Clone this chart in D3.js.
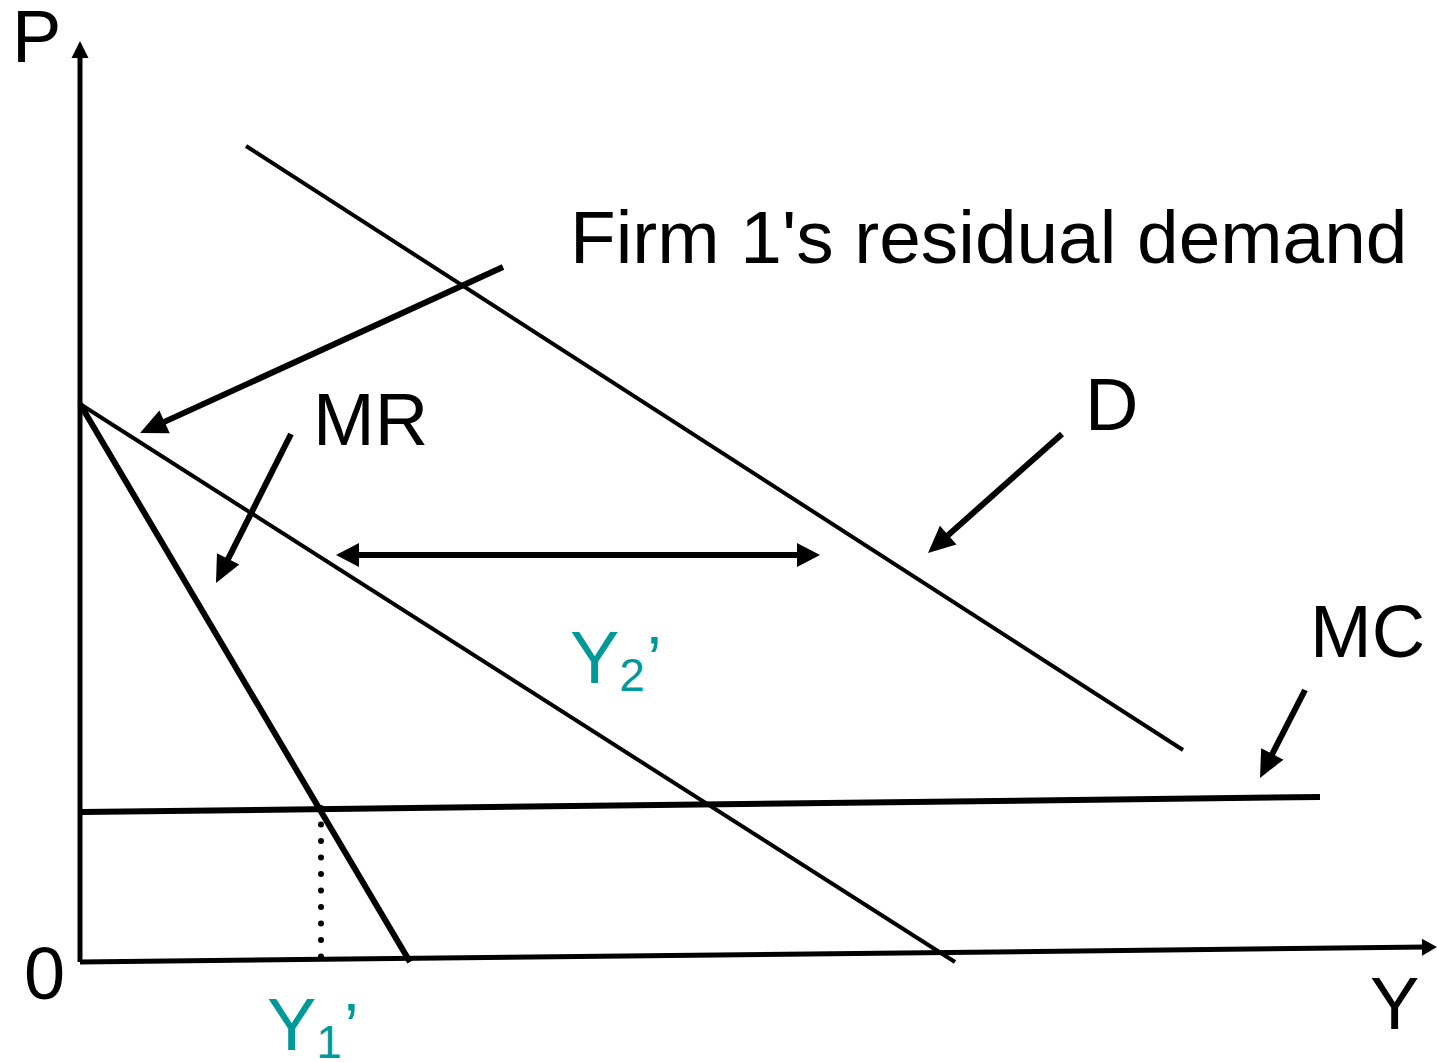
<!DOCTYPE html>
<html>
<head>
<meta charset="utf-8">
<script src="https://cdn.jsdelivr.net/npm/d3@7"></script>
<style>
  body { margin: 0; background: #fff; }
  svg { display: block; font-family: "Liberation Sans", Arial, sans-serif; }
</style>
</head>
<body>
<svg id="drawing_region"></svg>
<script>
// curves, in quantity / price units (origin at 0,0)
const demandD   = [[166, 816], [1103, 212]];
const residualD = [[0, 558], [875, 0]];
const mrCurve   = [[0, 558], [330, 0]];
const mcCurve   = [[2, 150], [1240, 165]];
const yAxisLine = [[0, 0], [0, 921]];
const xAxisLine = [[0, 0], [1357, 15]];
const dropLine  = [[241, 154], [241, 0]];

// pointer arrows [from, to]
const arrows = [
  [[423, 695], [60, 529]],
  [[211, 528], [136, 379]],
  [[982, 528], [848, 409]],
  [[1225, 272], [1180, 184]]
];
const spanArrow = [[256, 407], [740, 407]];

const labels = [
  { text: "P", x: -68, y: 900, size: 74 },
  { text: "0", x: -56, y: -37, size: 74 },
  { text: "Y", x: 1290, y: -67, size: 74 },
  { text: "Firm 1's residual demand", x: 490, y: 699, size: 74.8 },
  { text: "MR", x: 233, y: 517, size: 74 },
  { text: "D", x: 1005, y: 532, size: 74 },
  { text: "MC", x: 1230, y: 305, size: 74 }
];
const teal = [
  { main: "Y", sub: "2", x: 490, y: 279 },
  { main: "Y", sub: "1", x: 187, y: -88 }
];

const config = { width: 1437, height: 1062, ox: 80, oy: 962 };

const xscale = d3.scaleLinear().domain([0, 1357]).range([config.ox, config.ox + 1357]);
const yscale = d3.scaleLinear().domain([0, 920]).range([config.oy, config.oy - 920]);

const svg = d3.select('#drawing_region')
  .attr('width', config.width)
  .attr('height', config.height);

const line = d3.line().x(d => xscale(d[0])).y(d => yscale(d[1]));

// shaft shortened so it hides under the head, and the head polygon
function shaft(from, to, len) {
  const x1 = xscale(from[0]), y1 = yscale(from[1]);
  const x2 = xscale(to[0]), y2 = yscale(to[1]);
  const L = Math.hypot(x2 - x1, y2 - y1);
  const ux = (x2 - x1) / L, uy = (y2 - y1) / L;
  return [[x1, y1], [x2 - ux * len * 0.7, y2 - uy * len * 0.7]];
}
function head(from, to, len, wid) {
  const x1 = xscale(from[0]), y1 = yscale(from[1]);
  const x2 = xscale(to[0]), y2 = yscale(to[1]);
  const L = Math.hypot(x2 - x1, y2 - y1);
  const ux = (x2 - x1) / L, uy = (y2 - y1) / L;
  const nx = -uy, ny = ux;
  const bx = x2 - ux * len, by = y2 - uy * len;
  return `M${x2},${y2}L${bx + nx * wid / 2},${by + ny * wid / 2}L${bx - nx * wid / 2},${by - ny * wid / 2}Z`;
}
const pix = d3.line();

function drawArrow(from, to, sw, len, wid, both) {
  let pts = shaft(from, to, len);
  if (both) {
    const back = shaft(to, from, len);
    pts = [back[1], pts[1]];
    svg.append('path').attr('d', head(to, from, len, wid)).attr('fill', 'black');
  }
  svg.append('path').attr('d', pix(pts))
    .attr('stroke', 'black').attr('stroke-width', sw).attr('fill', 'none');
  svg.append('path').attr('d', head(from, to, len, wid)).attr('fill', 'black');
}

// axes
drawArrow(yAxisLine[0], yAxisLine[1], 5, 17, 17, false);
drawArrow(xAxisLine[0], xAxisLine[1], 5, 15, 17, false);

svg.append('path').attr('d', line(demandD))
  .attr('stroke', 'black').attr('stroke-width', 4).attr('fill', 'none');
svg.append('path').attr('d', line(residualD))
  .attr('stroke', 'black').attr('stroke-width', 4).attr('fill', 'none');
svg.append('path').attr('d', line(mrCurve))
  .attr('stroke', 'black').attr('stroke-width', 6).attr('fill', 'none');
svg.append('path').attr('d', line(mcCurve))
  .attr('stroke', 'black').attr('stroke-width', 6).attr('fill', 'none');

svg.append('path').attr('d', line(dropLine))
  .attr('stroke', 'black').attr('stroke-width', 6).attr('fill', 'none')
  .attr('stroke-linecap', 'round').attr('stroke-dasharray', '0 16.5');

arrows.forEach(a => drawArrow(a[0], a[1], 6, 27, 25, false));
drawArrow(spanArrow[0], spanArrow[1], 6, 23, 24, true);

svg.selectAll('.label')
  .data(labels)
  .enter()
  .append('text')
  .attr('class', 'label')
  .attr('x', d => xscale(d.x))
  .attr('y', d => yscale(d.y))
  .attr('font-size', d => d.size)
  .attr('fill', 'black')
  .text(d => d.text);

const tl = svg.selectAll('.teal')
  .data(teal)
  .enter()
  .append('text')
  .attr('class', 'teal')
  .attr('x', d => xscale(d.x))
  .attr('y', d => yscale(d.y))
  .attr('font-size', 74)
  .attr('fill', '#009999');
tl.append('tspan').text(d => d.main);
tl.append('tspan').attr('font-size', 46).attr('dy', 8).text(d => d.sub);
tl.append('tspan').attr('font-size', 66).attr('dy', -8).attr('dx', 2).text('\u2019');
</script>
</body>
</html>
